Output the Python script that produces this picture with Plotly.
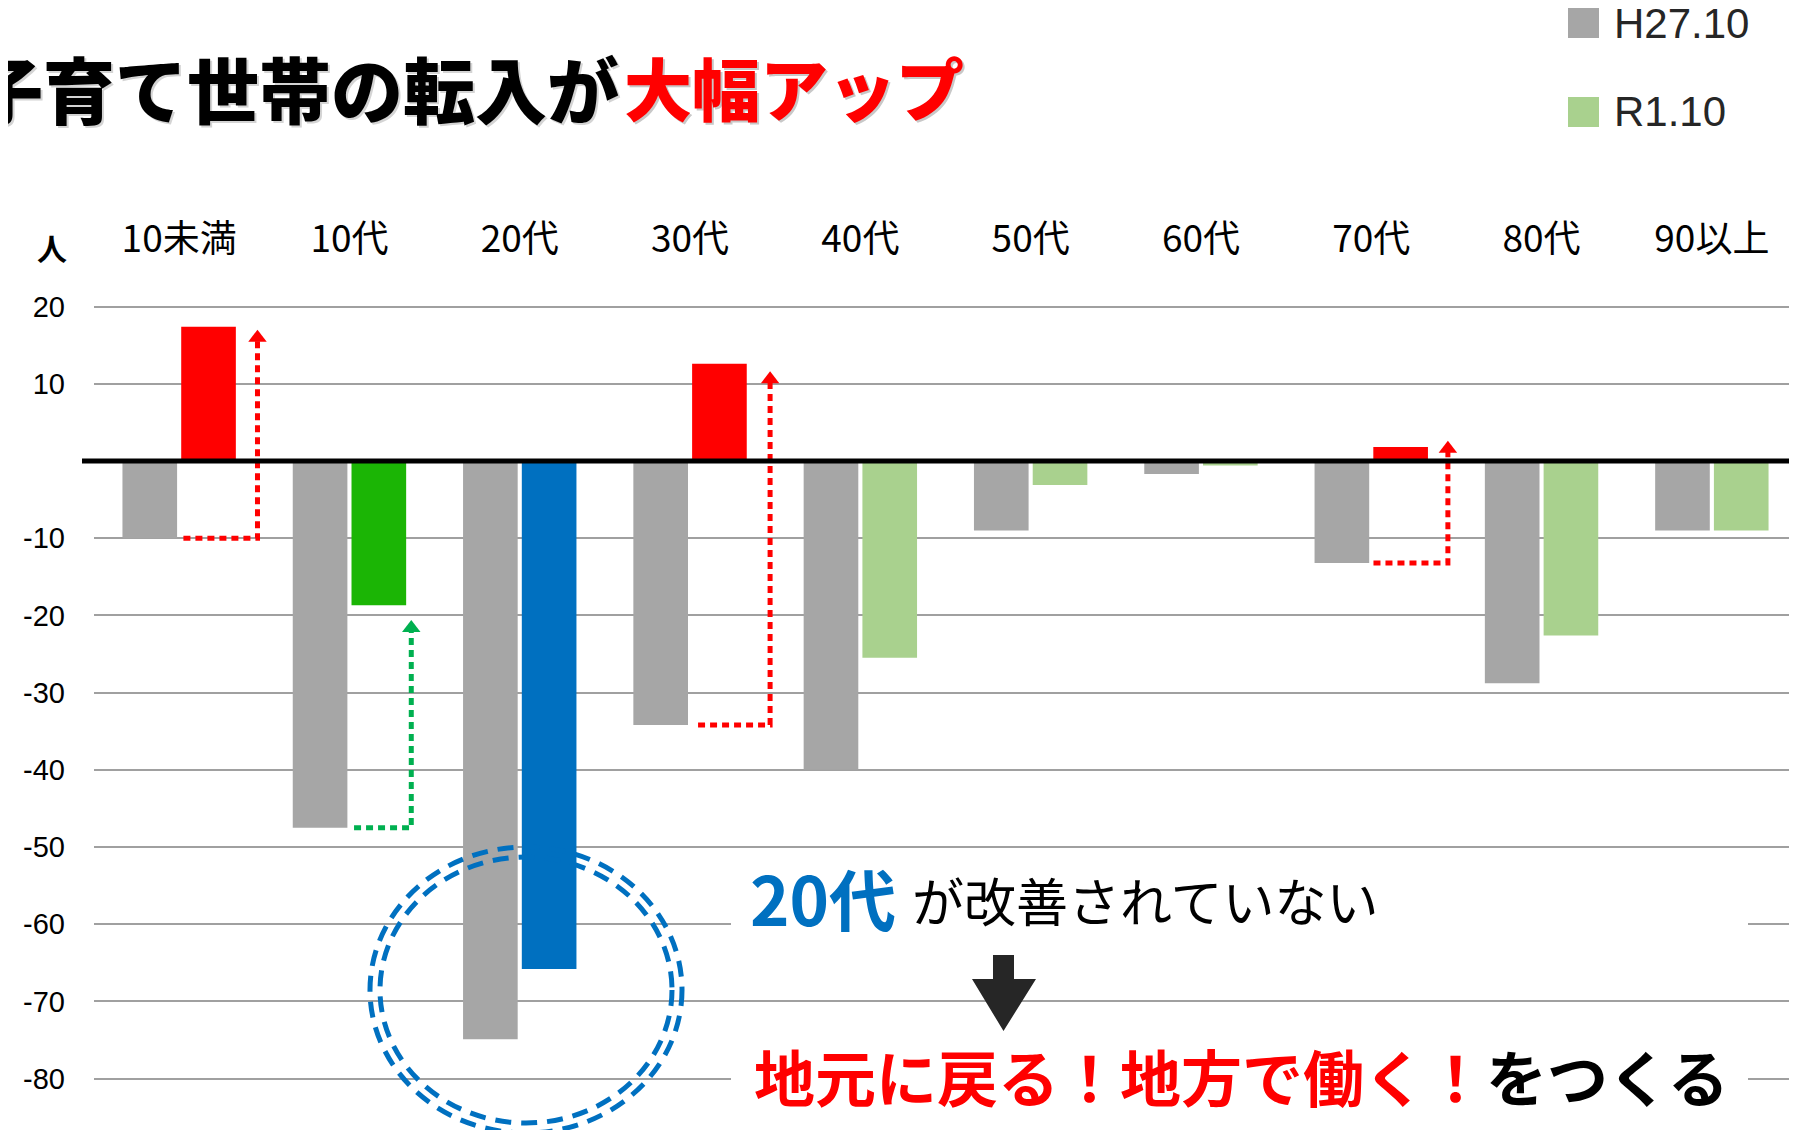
import plotly.graph_objects as go

# ---------------- data ----------------
categories = ["10未満", "10代", "20代", "30代", "40代", "50代", "60代", "70代", "80代", "90以上"]
series_names = ["H27.10", "R1.10"]
h27_values = [-10, -47.5, -74.9, -34.2, -40, -9, -1.7, -13.2, -28.8, -9]
r1_values = [17.4, -18.7, -65.8, 12.6, -25.5, -3.1, -0.6, 1.8, -22.6, -9]
ytick_values = [20, 10, -10, -20, -30, -40, -50, -60, -70, -80]
ytick_labels = ["20", "10", "-10", "-20", "-30", "-40", "-50", "-60", "-70", "-80"]
# improvement arrows: category index and where the arrow tip points
arrow_categories = [0, 1, 3, 7]
arrow_tips = [17.1, -20.5, 11.7, 2.7]

title_black = "子育て世帯の転入が"
title_red = "大幅アップ"
note_blue = "20代"
note_black = "が改善されていない"
note2_red = "地元に戻る！地方で働く！"
note2_black = "をつくる"
unit_label = "人"

# ---------------- styles ----------------
GRAY = "#A6A6A6"
RED = "#FF0000"
BLUE = "#0070C0"
LIGHT_GREEN = "#A9D18E"
GREEN = "#1BB505"
ARROW_GREEN = "#00B050"
r1_colors = [RED, GREEN, BLUE, RED, LIGHT_GREEN, LIGHT_GREEN, LIGHT_GREEN, RED, LIGHT_GREEN, LIGHT_GREEN]
arrow_colors = [RED, ARROW_GREEN, RED, RED]
arrow_h_start = [0.025, 0.027, 0.047, 0.013]
arrow_v_off = [0.46, 0.363, 0.47, 0.45]

JP = "Noto Sans CJK JP"
LAT = "Liberation Sans, Arial, sans-serif"

W, H = 1781, 1122
ML, MR, MT, MB = 86, 0, 262, 0
PAGE = 8
Y_RANGE = [-86.66, 24.74]
X_RANGE = [-0.5, 9.453]


def fx(p):
    return (p - PAGE - ML) / (W - ML - MR)


def fy(p):
    return 1 - (p - PAGE - MT) / (H - MT - MB)


xs = list(range(len(categories)))
fig = go.Figure()
fig.add_trace(go.Bar(x=xs, y=h27_values, name=series_names[0], marker=dict(color=GRAY, line=dict(width=0))))
fig.add_trace(go.Bar(x=xs, y=r1_values, name=series_names[1], marker=dict(color=r1_colors, line=dict(width=0))))

# dotted improvement arrows
y_span = Y_RANGE[1] - Y_RANGE[0]
px_per_unit = (H - MT - MB) / y_span
for i, cat in enumerate(arrow_categories):
    base = h27_values[cat]
    tip = arrow_tips[i]
    xv = cat + arrow_v_off[i]
    head_h = 11 / px_per_unit
    fig.add_trace(go.Scatter(
        x=[cat + arrow_h_start[i], xv, xv],
        y=[base, base, tip - head_h],
        mode="lines", line=dict(color=arrow_colors[i], width=5, dash="7px,5px"),
        hoverinfo="skip", showlegend=False))
    fig.add_trace(go.Scatter(
        x=[xv], y=[tip - 8.66 / px_per_unit], mode="markers",
        marker=dict(symbol="triangle-up", size=16, color=arrow_colors[i]),
        hoverinfo="skip", showlegend=False))

shapes = []
# white text boxes hiding gridlines
shapes.append(dict(type="rect", xref="paper", yref="paper", x0=fx(731), x1=fx(1748), y0=fy(965), y1=fy(848),
                   fillcolor="white", line=dict(width=0), layer="above"))
shapes.append(dict(type="rect", xref="paper", yref="paper", x0=fx(731), x1=fx(1748), y0=fy(1140), y1=fy(1040),
                   fillcolor="white", line=dict(width=0), layer="above"))
# thick zero line
zero_frac = (0 - Y_RANGE[0]) / y_span
shapes.append(dict(type="line", xref="paper", yref="paper", x0=fx(82), x1=1.01, y0=zero_frac, y1=zero_frac,
                   line=dict(color="black", width=5), layer="above"))
# double dashed circle
for inset in (0, 10):
    shapes.append(dict(type="circle", xref="paper", yref="paper",
                       x0=fx(370 + inset), x1=fx(682 - inset), y0=fy(1133 - inset), y1=fy(847 + inset),
                       line=dict(color=BLUE, width=5, dash="16px,10px"), layer="above"))
# down arrow
pts = [(993, 955), (1014, 955), (1014, 979), (1036, 979), (1003.5, 1031), (972, 979), (993, 979)]
path = "M " + " L ".join(f"{fx(a):.5f},{fy(b):.5f}" for a, b in pts) + " Z"
shapes.append(dict(type="path", xref="paper", yref="paper", path=path, fillcolor="#262626",
                   line=dict(width=0), layer="above"))
# legend squares
shapes.append(dict(type="rect", xref="paper", yref="paper", x0=fx(1568), x1=fx(1599), y0=fy(38), y1=fy(8),
                   fillcolor=GRAY, line=dict(width=0)))
shapes.append(dict(type="rect", xref="paper", yref="paper", x0=fx(1568), x1=fx(1599), y0=fy(127), y1=fy(97),
                   fillcolor=LIGHT_GREEN, line=dict(width=0)))

ann = []


def add_text(text, xp, yp, size, color, xanchor="left", family=JP, weight=None):
    f = dict(family=family, size=size, color=color)
    if weight:
        f["weight"] = weight
    ann.append(dict(text=text, xref="paper", yref="paper", x=fx(xp), y=fy(yp), xanchor=xanchor, yanchor="middle",
                    showarrow=False, font=f))


# title with soft shadow
add_text(title_black, 623, 89, 72, "#D4D4D4", "right", weight=900)
add_text(title_black, 621, 87, 72, "black", "right", weight=900)
add_text(title_red, 624, 89, 68, "#C8C8C8", "left", weight=900)
add_text(title_red, 622, 87, 68, RED, "left", weight=900)
# legend labels
add_text(series_names[0], 1612, 23, 42, "#262626", family=LAT)
add_text(series_names[1], 1612, 112, 42, "#262626", family=LAT)
# unit
add_text(unit_label, 52, 247, 30, "black", "center", weight=700)
# notes
add_text(f"<b>{note_blue}</b>", 748, 896, 67, BLUE)
add_text(note_black, 910, 899, 52, "black")
add_text(f"<b><span style='color:{RED}'>{note2_red}</span>{note2_black}</b>", 752, 1075, 61, "black")

fig.update_layout(
    width=W, height=H,
    margin=dict(l=ML, r=MR, t=MT, b=MB, pad=0),
    paper_bgcolor="white", plot_bgcolor="white",
    barmode="group", bargap=0.31, bargroupgap=0.07,
    showlegend=False,
    shapes=shapes, annotations=ann,
    xaxis=dict(range=X_RANGE, side="top", tickvals=xs, ticktext=categories, showgrid=False,
               zeroline=False, showline=False, ticks="", ticklabelstandoff=10,
               tickfont=dict(family=JP, size=37, color="black")),
    yaxis=dict(range=Y_RANGE, tickvals=ytick_values, ticktext=ytick_labels, showgrid=True,
               gridcolor="#A0A0A0", gridwidth=1.5, zeroline=False, showline=False, ticks="",
               ticklabelstandoff=28, tickfont=dict(family=LAT, size=29, color="black")),
)

fig.write_html("out.html")
